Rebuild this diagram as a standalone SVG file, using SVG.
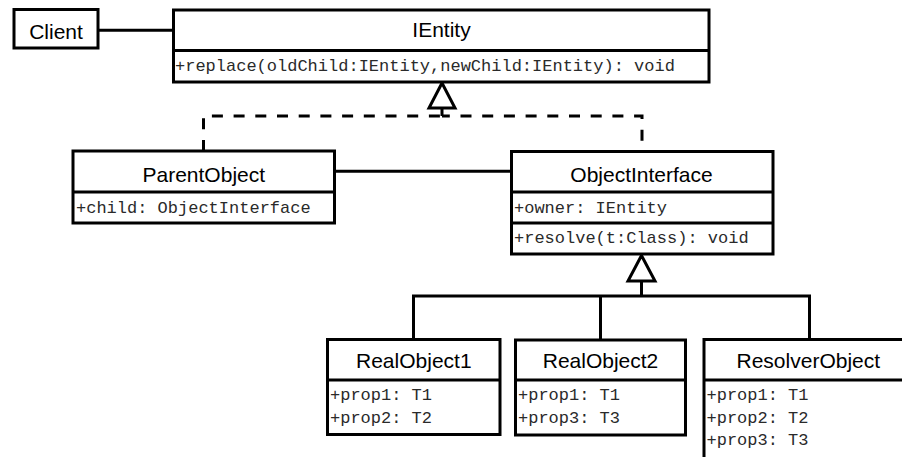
<svg xmlns="http://www.w3.org/2000/svg" width="902" height="457" viewBox="0 0 902 457">
  <style>
    .box { fill: #fff; stroke: #000; stroke-width: 3; }
    .sep { fill: none; stroke: #000; stroke-width: 3; }
    .edge { fill: none; stroke: #000; stroke-width: 3; }
    .dash { fill: none; stroke: #000; stroke-width: 3; stroke-dasharray: 11 10.7; }
    .head { fill: #fff; stroke: #000; stroke-width: 3; stroke-linejoin: miter; }
    .title { font-family: "Liberation Sans", Arial, sans-serif; font-size: 21px; fill: #000; text-anchor: middle; }
    .member { font-family: "Liberation Mono", "Courier New", monospace; font-size: 17px; fill: #2a2a2a; }
  </style>
  <rect width="902" height="457" fill="#fff"/>

  <!-- connectors -->
  <g id="connectors">
    <!-- association Client - IEntity -->
    <line class="edge" x1="98" y1="30.3" x2="173.5" y2="30.3"/>
    <!-- association ParentObject - ObjectInterface -->
    <line class="edge" x1="334.5" y1="171.3" x2="511.5" y2="171.3"/>
    <!-- realization of IEntity -->
    <path class="dash" d="M203.5 151 V116 H442"/>
    <path class="dash" style="stroke-dashoffset:11" d="M642 151.5 V116 H442"/>
    <line class="edge" x1="442" y1="108" x2="442" y2="116"/>
    <polygon class="head" points="442,83 429,108 455,108"/>
    <!-- generalization of ObjectInterface -->
    <path class="edge" d="M413.5 339.5 V296 H809.5 V339.5"/>
    <line class="edge" x1="600.5" y1="296" x2="600.5" y2="340"/>
    <line class="edge" x1="641.5" y1="281" x2="641.5" y2="296"/>
    <polygon class="head" points="641.5,255.5 628,281 655,281"/>
  </g>

  <g id="Client">
    <rect class="box" x="14" y="9.5" width="84" height="38.5"/>
    <text class="title" x="56" y="39">Client</text>
  </g>

  <g id="IEntity">
    <rect class="box" x="173.5" y="10" width="535.5" height="72"/>
    <line class="sep" x1="173.5" y1="50.5" x2="709" y2="50.5"/>
    <text class="title" x="441.5" y="37">IEntity</text>
    <text class="member" x="175" y="71">+replace(oldChild:IEntity,newChild:IEntity): void</text>
  </g>

  <g id="ParentObject">
    <rect class="box" x="73" y="151" width="261.5" height="72"/>
    <line class="sep" x1="73" y1="192" x2="334.5" y2="192"/>
    <text class="title" x="203.8" y="182">ParentObject</text>
    <text class="member" x="76" y="213">+child: ObjectInterface</text>
  </g>

  <g id="ObjectInterface">
    <rect class="box" x="511.5" y="151.5" width="261.5" height="102.5"/>
    <line class="sep" x1="511.5" y1="192" x2="773" y2="192"/>
    <line class="sep" x1="511.5" y1="223" x2="773" y2="223"/>
    <text class="title" x="641.5" y="181.5">ObjectInterface</text>
    <text class="member" x="514" y="213">+owner: IEntity</text>
    <text class="member" x="514" y="243">+resolve(t:Class): void</text>
  </g>

  <g id="RealObject1">
    <rect class="box" x="327.5" y="339.5" width="172.5" height="95"/>
    <line class="sep" x1="327.5" y1="380" x2="500" y2="380"/>
    <text class="title" x="413.8" y="368">RealObject1</text>
    <text class="member" x="330" y="400">+prop1: T1</text>
    <text class="member" x="330" y="422.5">+prop2: T2</text>
  </g>

  <g id="RealObject2">
    <rect class="box" x="515.5" y="340" width="170" height="95"/>
    <line class="sep" x1="515.5" y1="380" x2="685.5" y2="380"/>
    <text class="title" x="600.5" y="368">RealObject2</text>
    <text class="member" x="518" y="400">+prop1: T1</text>
    <text class="member" x="518" y="422.5">+prop3: T3</text>
  </g>

  <g id="ResolverObject">
    <rect class="box" x="704" y="339.5" width="208.5" height="130"/>
    <line class="sep" x1="704" y1="380" x2="912.5" y2="380"/>
    <text class="title" x="808.3" y="368">ResolverObject</text>
    <text class="member" x="706.5" y="400">+prop1: T1</text>
    <text class="member" x="706.5" y="422.5">+prop2: T2</text>
    <text class="member" x="706.5" y="445">+prop3: T3</text>
  </g>
</svg>
